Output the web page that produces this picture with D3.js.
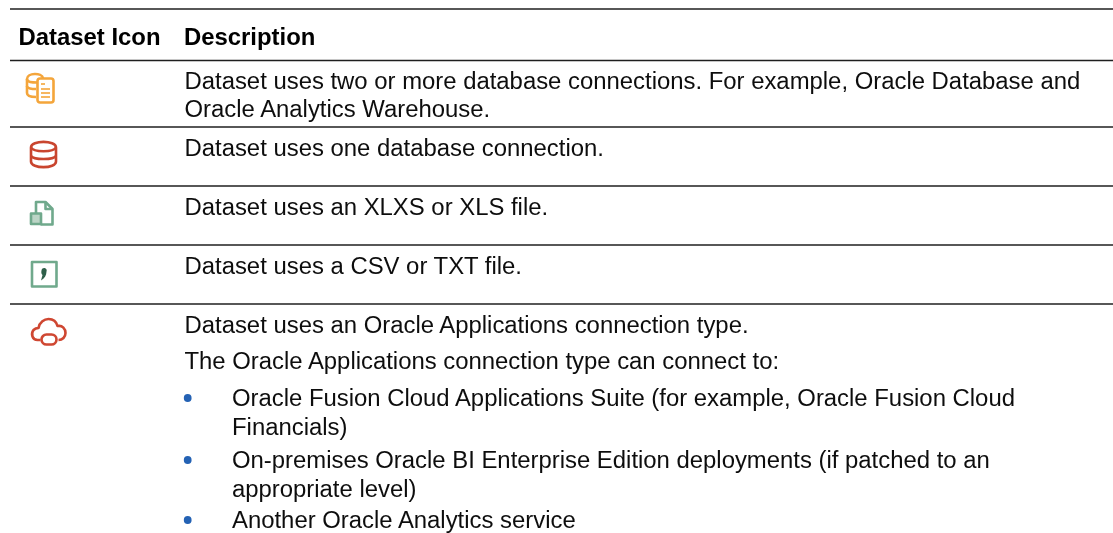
<!DOCTYPE html>
<html><head><meta charset="utf-8">
<script src="https://cdn.jsdelivr.net/npm/d3@7"></script>
<style>html,body{margin:0;padding:0;background:#fff}svg{display:block}
text{font-family:"Liberation Sans",Arial,sans-serif;fill:#0d0d0d}</style></head>
<body><svg id="c" width="1113" height="533"></svg>
<script>
const headers = ["Dataset Icon", "Description"];
const iconKinds = ["multi", "db", "xlsx", "csv", "cloud"];
const descriptions = [
  "Dataset uses two or more database connections. For example, Oracle Database and",
  "Oracle Analytics Warehouse.",
  "Dataset uses one database connection.",
  "Dataset uses an XLXS or XLS file.",
  "Dataset uses a CSV or TXT file.",
  "Dataset uses an Oracle Applications connection type.",
  "The Oracle Applications connection type can connect to:"
];
const bulletLines = [
  "Oracle Fusion Cloud Applications Suite (for example, Oracle Fusion Cloud",
  "Financials)",
  "On-premises Oracle BI Enterprise Edition deployments (if patched to an",
  "appropriate level)",
  "Another Oracle Analytics service"
];
const descY = [88.5, 117, 156, 215, 274, 333, 369];
const bulletY = [406, 435, 468, 496.5, 528];
const bulletDots = [0, 2, 4];
const ruleY = [9, 60.5, 127, 186, 245, 304];
const iconC = [[40,88],[43.5,154.5],[41.5,213],[44,274],[48.5,332]];

const svg = d3.select("#c");
const FS = 23.88;
const defs = svg.append("defs");
defs.append("filter").attr("id","soft").append("feGaussianBlur").attr("stdDeviation",0.55);
defs.append("filter").attr("id","softT").append("feGaussianBlur").attr("stdDeviation",0.3);

svg.selectAll("line.rule").data(ruleY).join("line").attr("class","rule")
  .attr("x1",10).attr("x2",1113).attr("y1",d=>d).attr("y2",d=>d)
  .attr("stroke","#1f1f1f").attr("stroke-width",1.5);
const tg = svg.append("g").attr("filter","url(#softT)");
tg.selectAll("text.h").data(headers).join("text").attr("class","h")
  .attr("x",(d,i)=>i?184:18.5).attr("y",45).attr("font-size",FS).attr("font-weight","bold")
  .style("fill","#000").text(d=>d);
tg.selectAll("text.d").data(descriptions).join("text").attr("class","d")
  .attr("x",184.5).attr("y",(d,i)=>descY[i]).attr("font-size",FS).text(d=>d);
tg.selectAll("text.b").data(bulletLines).join("text").attr("class","b")
  .attr("x",232).attr("y",(d,i)=>bulletY[i]).attr("font-size",FS).text(d=>d);
svg.selectAll("circle.dot").data(bulletDots).join("circle").attr("class","dot")
  .attr("cx",187.7).attr("cy",d=>bulletY[d]-8).attr("r",3.9).attr("fill","#2462b4");

const palette = {multi:"#f4a53a", db:"#c9452f", xlsx:"#6fa98c", csv:"#6fa98c", cloud:"#cf4630"};
const g = svg.selectAll("g.icon").data(iconKinds).join("g").attr("class","icon")
  .attr("transform",(d,i)=>`translate(${iconC[i][0]},${iconC[i][1]})`)
  .attr("fill","none").attr("stroke",d=>palette[d]).attr("stroke-width",2.6)
  .attr("filter","url(#soft)").attr("stroke-linejoin","round");
const shapes = {
  multi:[
    "M-13-9C-13-15.500 2-15.500 3-10",
    "M-13-9V5C-13 8-8 9-4 9",
    "M-13-9C-13-6-8-5.500-3-5.500",
    "M-13 -2C-13 0.500-8 1-4 1"
  ],
  db:[
    "M-12.500-7C-12.500-14.500 12.500-14.500 12.500-7V7C12.500 14.500-12.500 14.500-12.500 7Z",
    "M-12.500-7C-10-2 10-2 12.500-7",
    "M-12.500 1.500C-10 5.500 10 5.500 12.500 1.500"
  ],
  xlsx:[
    "M-5.500 0V-11H4L11-4V11.500H-1",
    "M4-11V-4H11"
  ],
  csv:["M-12-12H12.500V12.500H-12Z"],
  cloud:[
    "M-8 8H-11C-16 8-18 2-15-2C-13-4-11-4-10-4C-9-10-4-13 0-13C5-13 8-10 9-6C14-7 17-3 17 1C17 5 14 8 10 8"
  ]
};
g.each(function(k){
  const s = d3.select(this);
  s.selectAll("path").data(shapes[k]).join("path").attr("d",d=>d);
  if(k==="multi"){
    s.append("rect").attr("x",-2.5).attr("y",-9.5).attr("width",16).attr("height",24).attr("rx",2.5).attr("fill","#fff");
    s.selectAll("line.m").data([[1,5,-4],[1,10,1],[1,10,5],[1,10,9]]).join("line")
      .attr("x1",d=>d[0]).attr("x2",d=>d[1]).attr("y1",d=>d[2]).attr("y2",d=>d[2]).attr("stroke-width",1.6);
  }
  if(k==="xlsx"){
    s.append("rect").attr("x",-10.5).attr("y",0.5).attr("width",10).attr("height",10.5).attr("fill","#bcd5c6");
  }
  if(k==="csv"){
    s.append("path").attr("d","M-2.500-3.500A2.600 2.600 0 1 1 2.500-2.500C2.500 1.500 0.500 4.500-3 6.500L-1.500 1C-2.500 0-3-1.500-2.500-3.500Z").attr("fill","#2f5f4a").attr("stroke","none");
  }
  if(k==="cloud"){
    s.append("rect").attr("x",-7).attr("y",2.5).attr("width",15).attr("height",10).attr("rx",5).attr("fill","#fff");
  }
});
</script></body></html>
